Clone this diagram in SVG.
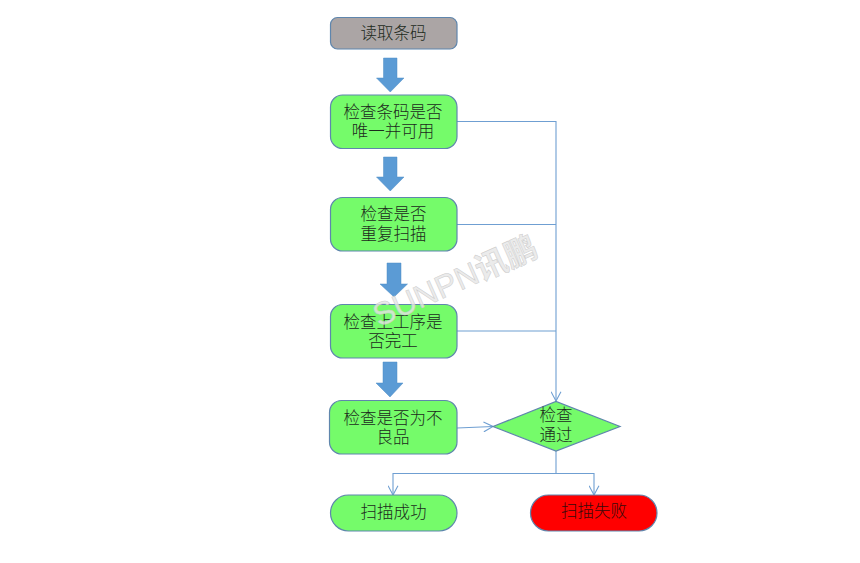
<svg xmlns="http://www.w3.org/2000/svg" width="860" height="563" viewBox="0 0 860 563">
<style>
.n{fill:#75fb6a;stroke:#5f86ad;stroke-width:1.2}
.t{font-family:"Noto Sans CJK SC","Liberation Sans",sans-serif;font-size:16.5px;font-weight:300;fill:#1c2a1c;text-anchor:middle}
.c{fill:none;stroke:#6f9fd2;stroke-width:1.1}
.b{fill:#5b9bd5;stroke:#4f8cc4;stroke-width:.5}
</style>
<defs>
<marker id="o" viewBox="0 0 10 10" refX="9.5" refY="5" markerWidth="11" markerHeight="11" markerUnits="userSpaceOnUse" orient="auto">
<path d="M1 .5L9.5 5L1 9.5" fill="none" stroke="#6f9fd2" stroke-width="1"/>
</marker>
</defs>
<rect width="860" height="563" fill="#fff"/>
<g id="connectors">
<path class="c" d="M457 121.500H556V401" marker-end="url(#o)"/>
<path class="c" d="M457 224.500H556"/>
<path class="c" d="M457 331H556"/>
<path class="c" d="M457 428L493 426.500" marker-end="url(#o)"/>
<path class="c" d="M556 451V473.500H393V495" marker-end="url(#o)"/>
<path class="c" d="M556 473.500H594V495" marker-end="url(#o)"/>
<path class="b" d="M383.500 58H397V78H404L390.250 92L376.500 78H383.500Z"/>
<path class="b" d="M383.500 157H397V177H404L390.250 191L376.500 177H383.500Z"/>
<path class="b" d="M387 263H401V284H407.500L394 297L380 284H387Z"/>
<path class="b" d="M383 362H397V383H403L390 397L376 383H383Z"/>
</g>
<g id="n1"><rect class="n" style="fill:#aba5a5" x="330.500" y="17.500" width="126.500" height="31.500" rx="7"/><text class="t" x="393.500" y="39">读取条码</text></g>
<g id="n2"><rect class="n" x="330.500" y="95" width="126.500" height="53.500" rx="12"/><text class="t"><tspan x="393" y="118">检查条码是否</tspan><tspan x="393" y="137">唯一并可用</tspan></text></g>
<g id="n3"><rect class="n" x="330.500" y="197.500" width="126.500" height="53.500" rx="12"/><text class="t"><tspan x="393.500" y="220">检查是否</tspan><tspan x="393.500" y="240">重复扫描</tspan></text></g>
<g id="n4"><rect class="n" x="330.500" y="304.500" width="126.500" height="53.500" rx="12"/><text class="t"><tspan x="393" y="328">检查上工序是</tspan><tspan x="393" y="347">否完工</tspan></text></g>
<g id="n5"><rect class="n" x="329.500" y="400.500" width="127.500" height="53.500" rx="12"/><text class="t"><tspan x="393" y="424">检查是否为不</tspan><tspan x="393" y="443">良品</tspan></text></g>
<g id="n6"><path class="n" d="M493 426.500L556 401.500L620 426.500L556 451Z"/><text class="t"><tspan x="556" y="421">检查</tspan><tspan x="556" y="441">通过</tspan></text></g>
<g id="n7"><rect class="n" x="330.500" y="495" width="126.500" height="36" rx="18"/><text class="t" x="393.500" y="518">扫描成功</text></g>
<g id="n8"><rect class="n" style="fill:#ff0000" x="530.500" y="495" width="126.500" height="36" rx="18"/><text class="t" style="fill:#3a0a0a" x="594" y="517">扫描失败</text></g>
<text id="watermark" transform="translate(379 327) rotate(-24)" font-family="'Liberation Sans','Noto Sans CJK SC',sans-serif" font-size="32" fill="#e6e6e6" stroke="#cccccc" stroke-width=".5" fill-opacity=".8">SUNPN<tspan font-family="'Noto Sans CJK SC',sans-serif" font-weight="700">讯鹏</tspan></text>
</svg>
